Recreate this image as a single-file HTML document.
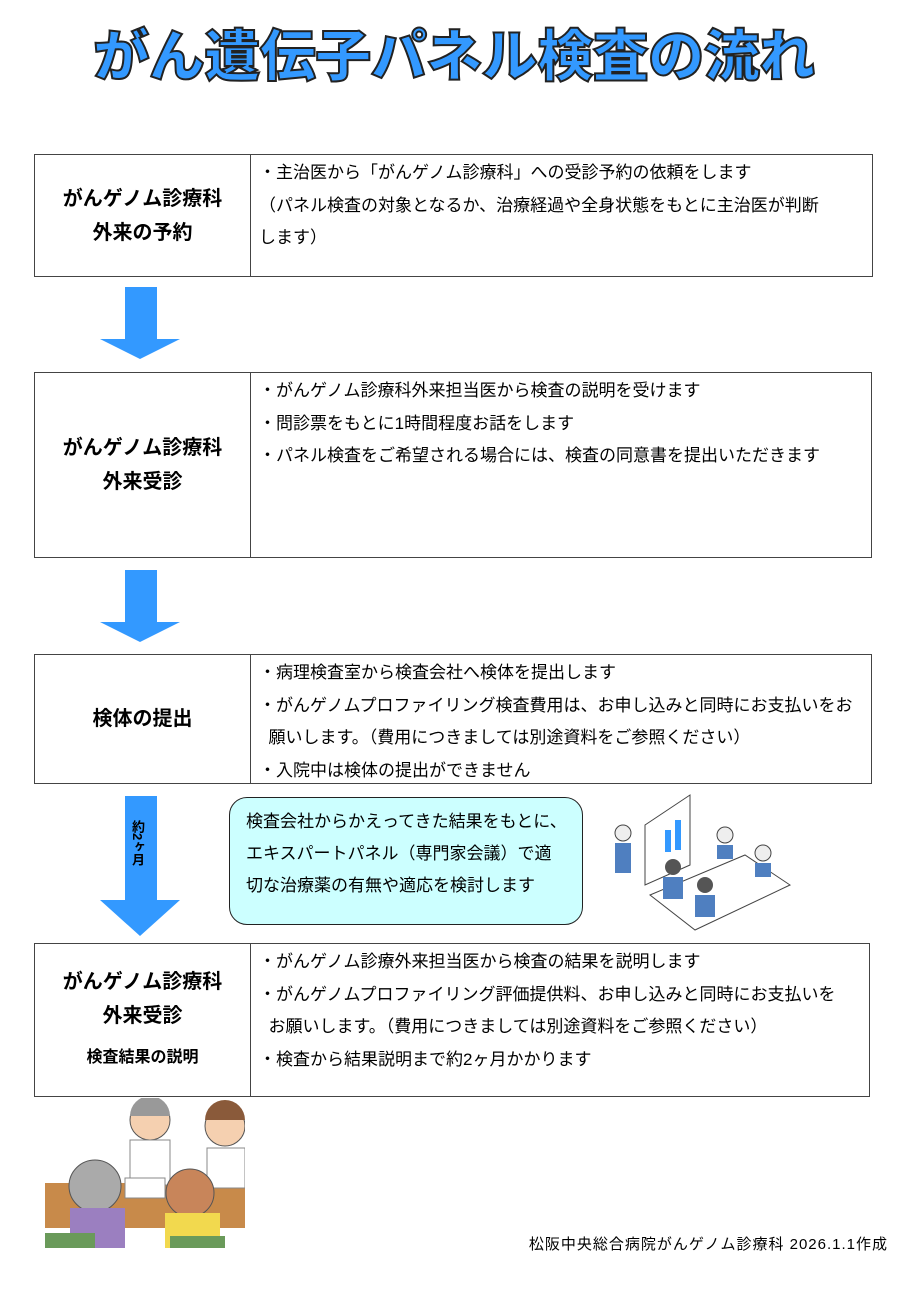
<!DOCTYPE html>
<html><head><meta charset="utf-8"><style>
body{margin:0;background:#fff;width:908px;height:1290px;position:relative;overflow:hidden;font-family:"Liberation Sans","Noto Sans CJK JP",sans-serif;color:#000}
.a{position:absolute}
.title{left:0;width:908px;top:22px;text-align:center;font-size:56px;font-weight:900;color:#3399ff;-webkit-text-stroke:2px #222;letter-spacing:-0.5px;line-height:70px}
.box{position:absolute;border:1px solid #444;box-sizing:border-box}
.box .l{position:absolute;left:0;top:0;bottom:0;width:215px;border-right:1px solid #444;display:flex;flex-direction:column;align-items:center;justify-content:center;font-weight:bold;font-size:20px;line-height:34px;text-align:center}
.box .r{position:absolute;left:224px;top:2px;right:6px;font-size:17px;line-height:32.5px}
.arrow{position:absolute}
</style></head><body>
<div class="a title">がん遺伝子パネル検査の流れ</div>

<div class="box" style="left:34px;top:154px;width:839px;height:123px">
<div class="l">がんゲノム診療科<br>外来の予約</div>
<div class="r">・主治医から「がんゲノム診療科」への受診予約の依頼をします<br>（パネル検査の対象となるか、治療経過や全身状態をもとに主治医が判断<br>します）</div></div>

<svg class="arrow" style="left:98px;top:287px" width="84" height="74"><polygon points="27,0 59,0 59,52 82,52 42,72 2,52 27,52" fill="#3399ff"/></svg>

<div class="box" style="left:34px;top:372px;width:838px;height:186px">
<div class="l">がんゲノム診療科<br>外来受診</div>
<div class="r">・がんゲノム診療科外来担当医から検査の説明を受けます<br>・問診票をもとに1時間程度お話をします<br>・パネル検査をご希望される場合には、検査の同意書を提出いただきます</div></div>

<svg class="arrow" style="left:98px;top:570px" width="84" height="74"><polygon points="27,0 59,0 59,52 82,52 42,72 2,52 27,52" fill="#3399ff"/></svg>

<div class="box" style="left:34px;top:654px;width:838px;height:130px">
<div class="l">検体の提出</div>
<div class="r">・病理検査室から検査会社へ検体を提出します<br>・がんゲノムプロファイリング検査費用は、お申し込みと同時にお支払いをお<br>&nbsp;&nbsp;願いします。（費用につきましては別途資料をご参照ください）<br>・入院中は検体の提出ができません</div></div>

<svg class="arrow" style="left:98px;top:796px" width="84" height="142"><polygon points="27,0 59,0 59,104 82,104 42,140 2,104 27,104" fill="#3399ff"/></svg>
<div class="a" style="left:124px;top:820px;width:20px;font-size:13px;font-weight:bold;line-height:14px;writing-mode:vertical-rl">約2ヶ月</div>

<div class="a" style="left:229px;top:797px;width:354px;height:128px;box-sizing:border-box;border:1px solid #222;border-radius:18px;background:#ccffff;padding:8px 0 0 16px;font-size:17px;line-height:32px">検査会社からかえってきた結果をもとに、<br>エキスパートパネル（専門家会議）で適<br>切な治療薬の有無や適応を検討します</div>

<svg class="a" style="left:605px;top:785px" width="190" height="155">
<polygon points="40,40 85,10 85,80 40,100" fill="#fff" stroke="#444"/>
<rect x="60" y="45" width="6" height="22" fill="#3399ff"/><rect x="70" y="35" width="6" height="30" fill="#3399ff"/>
<polygon points="45,110 140,70 185,100 90,145" fill="#fff" stroke="#444"/>
<circle cx="18" cy="48" r="8" fill="#eee" stroke="#444"/><rect x="10" y="58" width="16" height="30" fill="#4f7fc0"/>
<circle cx="120" cy="50" r="8" fill="#eee" stroke="#444"/><rect x="112" y="60" width="16" height="14" fill="#4f7fc0"/>
<circle cx="158" cy="68" r="8" fill="#eee" stroke="#444"/><rect x="150" y="78" width="16" height="14" fill="#4f7fc0"/>
<circle cx="68" cy="82" r="8" fill="#555"/><rect x="58" y="92" width="20" height="22" fill="#4f7fc0"/>
<circle cx="100" cy="100" r="8" fill="#555"/><rect x="90" y="110" width="20" height="22" fill="#4f7fc0"/>
</svg>

<div class="box" style="left:34px;top:943px;width:836px;height:154px">
<div class="l"><div>がんゲノム診療科<br>外来受診</div><div style="font-size:16px;margin-top:8px">検査結果の説明</div></div>
<div class="r">・がんゲノム診療外来担当医から検査の結果を説明します<br>・がんゲノムプロファイリング評価提供料、お申し込みと同時にお支払いを<br>&nbsp;&nbsp;お願いします。（費用につきましては別途資料をご参照ください）<br>・検査から結果説明まで約2ヶ月かかります</div></div>

<svg class="a" style="left:45px;top:1098px" width="200" height="150">
<rect x="0" y="85" width="200" height="45" fill="#c88a4a"/>
<circle cx="105" cy="22" r="20" fill="#f5d0b0" stroke="#555"/><path d="M85,18 A20,20 0 0 1 125,18 Z" fill="#999"/>
<rect x="85" y="42" width="40" height="45" fill="#fff" stroke="#888"/>
<circle cx="180" cy="28" r="20" fill="#f5d0b0" stroke="#555"/><path d="M160,22 A20,20 0 0 1 200,22 Z" fill="#8a5a3a"/>
<rect x="162" y="50" width="38" height="40" fill="#fff" stroke="#888"/>
<circle cx="50" cy="88" r="26" fill="#aaa" stroke="#555"/><rect x="25" y="110" width="55" height="40" fill="#9b7fc0"/>
<circle cx="145" cy="95" r="24" fill="#c8855a" stroke="#555"/><rect x="120" y="115" width="55" height="35" fill="#f2d94e"/>
<rect x="80" y="80" width="40" height="20" fill="#fff" stroke="#888"/>
<rect x="0" y="135" width="50" height="15" fill="#6a9a5a"/><rect x="125" y="138" width="55" height="12" fill="#6a9a5a"/>
</svg>

<div class="a" style="right:20px;top:1233px;font-size:15px;letter-spacing:1px">松阪中央総合病院がんゲノム診療科 2026.1.1作成</div>
</body></html>
